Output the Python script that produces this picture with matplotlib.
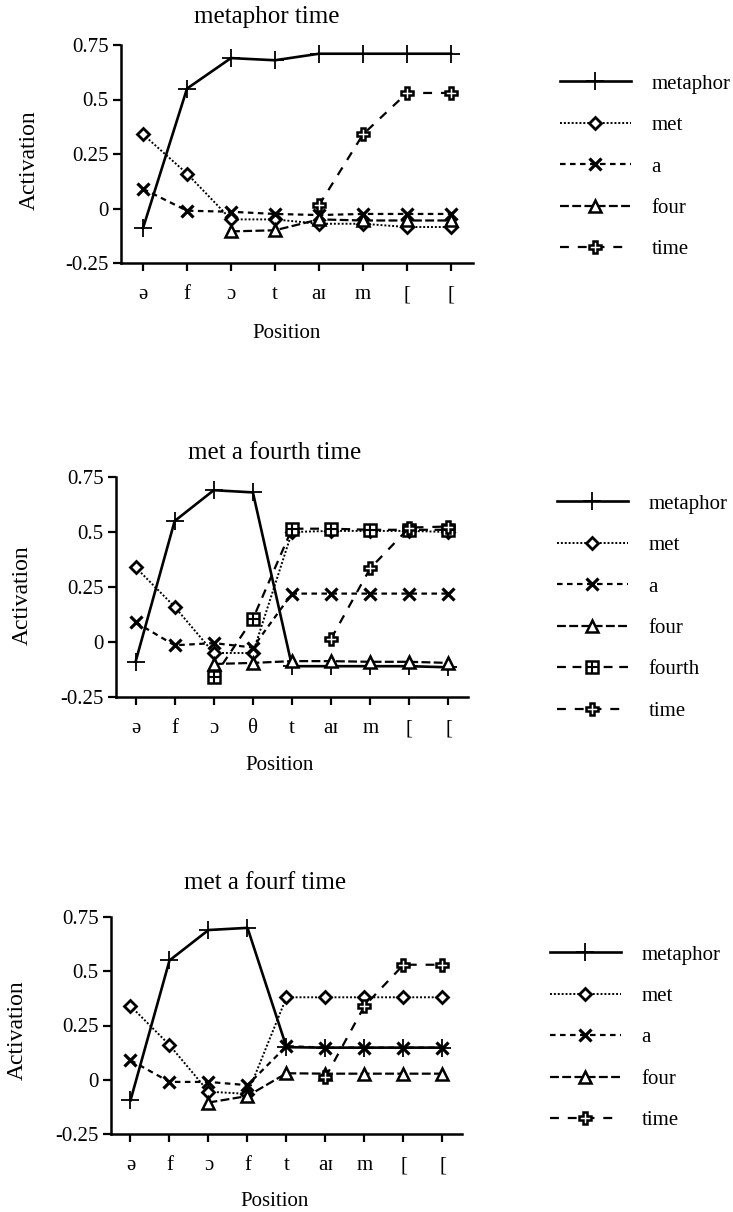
import matplotlib
matplotlib.use("Agg")
import matplotlib.pyplot as plt
from matplotlib.lines import Line2D

plt.rcParams['font.family'] = ['Liberation Serif', 'DejaVu Serif']

# ---------------- data ----------------
labels1 = ['ə', 'f', 'ɔ', 't', 'aɪ', 'm', '[', '[']
p1_metaphor = [-0.09, 0.55, 0.69, 0.68, 0.71, 0.71, 0.71, 0.71]
p1_met = [0.34, 0.16, -0.05, -0.05, -0.07, -0.07, -0.085, -0.085]
p1_a = [0.09, -0.01, -0.015, -0.025, -0.03, -0.025, -0.025, -0.025]
p1_four = [None, None, -0.105, -0.10, -0.05, -0.055, -0.055, -0.055]
p1_time = [None, None, None, None, 0.015, 0.34, 0.53, 0.53]

labels2 = ['ə', 'f', 'ɔ', 'θ', 't', 'aɪ', 'm', '[', '[']
p2_metaphor = [-0.09, 0.55, 0.69, 0.68, -0.11, -0.11, -0.11, -0.11, -0.115]
p2_met = [0.34, 0.16, -0.05, -0.05, 0.50, 0.505, 0.505, 0.505, 0.50]
p2_a = [0.09, -0.015, -0.005, -0.025, 0.22, 0.22, 0.22, 0.22, 0.22]
p2_four = [None, None, -0.10, -0.095, -0.087, -0.087, -0.09, -0.09, -0.095]
p2_fourth = [None, None, -0.16, 0.105, 0.515, 0.515, 0.51, 0.51, 0.51]
p2_time = [None, None, None, None, None, 0.015, 0.335, 0.52, 0.525]

labels3 = ['ə', 'f', 'ɔ', 'f', 't', 'aɪ', 'm', '[', '[']
p3_metaphor = [-0.095, 0.55, 0.69, 0.70, 0.15, 0.148, 0.148, 0.148, 0.148]
p3_met = [0.34, 0.16, -0.055, -0.065, 0.38, 0.38, 0.38, 0.38, 0.38]
p3_a = [0.09, -0.01, -0.01, -0.025, 0.155, 0.148, 0.148, 0.148, 0.148]
p3_four = [None, None, -0.105, -0.075, 0.03, 0.028, 0.028, 0.028, 0.028]
p3_time = [None, None, None, None, None, 0.012, 0.34, 0.53, 0.53]

yticks = [-0.25, 0, 0.25, 0.5, 0.75]
yticklabels = ['-0.25', '0', '0.25', '0.5', '0.75']

# ---------------- styles ----------------
STY = {
    'metaphor': dict(ls='-', lw=1.9, marker='+', ms=13, mew=1.3, color='black'),
    'met': dict(ls=(0, (1, 1)), lw=1.4, marker='D', ms=6.5, mew=2.0, mfc='white', color='black'),
    'a': dict(ls=(0, (2.5, 2)), lw=1.6, marker='x', ms=9, mew=2.3, color='black'),
    'four': dict(ls=(0, (4, 1.5)), lw=1.6, marker='^', ms=8.5, mew=1.8, mfc='white', color='black'),
    'fourth': dict(ls=(0, (4, 3)), lw=1.6, marker='s', ms=8, mew=1.8, mfc='white', color='black'),
    'time': dict(ls=(0, (4, 4)), lw=1.6, marker='P', ms=8.5, mew=1.8, mfc='white', color='black'),
}

W, H = 733, 1212
fig = plt.figure(figsize=(W / 100, H / 100), dpi=100)


def px_axes(left, top, right, bottom):
    return fig.add_axes([left / W, 1 - bottom / H, (right - left) / W, (bottom - top) / H])


def plot_series(ax, vals, name):
    xs = [i for i, v in enumerate(vals) if v is not None]
    ys = [v for v in vals if v is not None]
    st = STY[name]
    ax.plot(xs, ys, label=name, clip_on=False, **st)
    if name == 'fourth':
        ax.plot(xs, ys, ls='none', marker='+', ms=8, mew=1.5, color='black', clip_on=False)


def style_axes(ax, labels, pad_x):
    n = len(labels)
    ax.set_xlim(-0.5, n - 0.5)
    ax.set_ylim(-0.25, 0.75)
    ax.set_xticks(range(n))
    ax.set_xticklabels(labels, fontsize=15)
    ax.set_yticks(yticks)
    ax.set_yticklabels(yticklabels, fontsize=15)
    for s in ['top', 'right']:
        ax.spines[s].set_visible(False)
    for s in ['left', 'bottom']:
        ax.spines[s].set_linewidth(1.8)
    ax.tick_params(axis='both', direction='out', length=6, width=1.6)
    ax.tick_params(axis='x', pad=pad_x)
    ax.tick_params(axis='y', pad=3)
    ax.patch.set_alpha(0)


def make_legend(names, x, y_top):
    handles = []
    for nm in names:
        h = Line2D([], [], **STY[nm])
        if nm == 'fourth':
            h = (h, Line2D([], [], ls='none', marker='+', ms=8, mew=1.5, color='black'))
        handles.append(h)
    leg = fig.legend(handles, names, loc='upper left',
                     bbox_to_anchor=(x / W, 1 - y_top / H),
                     bbox_transform=fig.transFigure,
                     frameon=False, fontsize=15, handlelength=3.4,
                     handletextpad=1.0, labelspacing=1.05, borderpad=0,
                     borderaxespad=0, numpoints=1)
    return leg


# ---------------- panel 1 ----------------
ax1 = px_axes(121, 45, 473, 263)
style_axes(ax1, labels1, 10)
plot_series(ax1, p1_metaphor, 'metaphor')
plot_series(ax1, p1_met, 'met')
plot_series(ax1, p1_a, 'a')
plot_series(ax1, p1_four, 'four')
plot_series(ax1, p1_time, 'time')
fig.text(267 / W, 1 - 17 / H, 'metaphor time', ha='center', va='center', fontsize=18)
fig.text(29 / W, 1 - 160 / H, 'Activation', ha='center', va='center', rotation=90, fontsize=17)
fig.text(287 / W, 1 - 333 / H, 'Position', ha='center', va='center', fontsize=15)
make_legend(['metaphor', 'met', 'a', 'four', 'time'], 560, 74)

# ---------------- panel 2 ----------------
ax2 = px_axes(116, 477, 468, 697)
style_axes(ax2, labels2, 10)
plot_series(ax2, p2_metaphor, 'metaphor')
plot_series(ax2, p2_met, 'met')
plot_series(ax2, p2_a, 'a')
plot_series(ax2, p2_four, 'four')
plot_series(ax2, p2_fourth, 'fourth')
plot_series(ax2, p2_time, 'time')
fig.text(275 / W, 1 - 453 / H, 'met a fourth time', ha='center', va='center', fontsize=18)
fig.text(22 / W, 1 - 595 / H, 'Activation', ha='center', va='center', rotation=90, fontsize=17)
fig.text(280 / W, 1 - 766 / H, 'Position', ha='center', va='center', fontsize=15)
make_legend(['metaphor', 'met', 'a', 'four', 'fourth', 'time'], 557, 494)

# ---------------- panel 3 ----------------
ax3 = px_axes(111, 917, 462, 1134)
style_axes(ax3, labels3, 10)
plot_series(ax3, p3_metaphor, 'metaphor')
plot_series(ax3, p3_met, 'met')
plot_series(ax3, p3_a, 'a')
plot_series(ax3, p3_four, 'four')
plot_series(ax3, p3_time, 'time')
fig.text(265 / W, 1 - 883 / H, 'met a fourf time', ha='center', va='center', fontsize=18)
fig.text(17 / W, 1 - 1030 / H, 'Activation', ha='center', va='center', rotation=90, fontsize=17)
fig.text(275 / W, 1 - 1201 / H, 'Position', ha='center', va='center', fontsize=15)
make_legend(['metaphor', 'met', 'a', 'four', 'time'], 550, 945)

fig.savefig('out.png', dpi=100)
